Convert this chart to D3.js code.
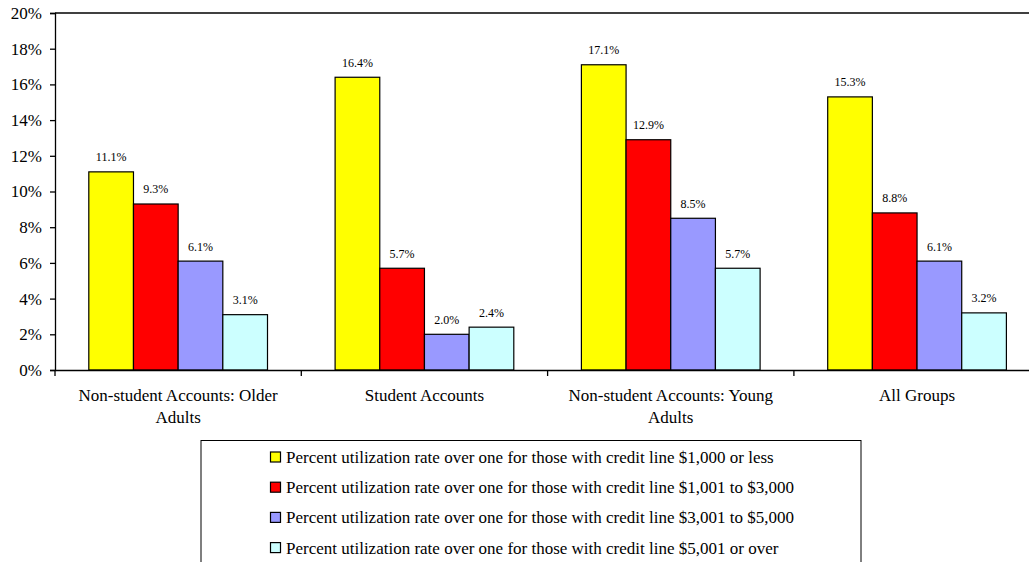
<!DOCTYPE html>
<html>
<head>
<meta charset="utf-8">
<script src="https://cdn.jsdelivr.net/npm/d3@7"></script>
<style>
  html, body { margin: 0; padding: 0; background: #fff; overflow: hidden; }
  svg { display: block; }
  text { font-family: "Liberation Serif", "Times New Roman", serif; fill: #000; }
</style>
</head>
<body>
<svg id="chart" width="1029" height="562"></svg>
<script>
const categories = [
  "Non-student Accounts: Older Adults",
  "Student Accounts",
  "Non-student Accounts: Young Adults",
  "All Groups"
];
const seriesNames = [
  "Percent utilization rate over one for those with credit line $1,000 or less",
  "Percent utilization rate over one for those with credit line $1,001 to $3,000",
  "Percent utilization rate over one for those with credit line $3,001 to $5,000",
  "Percent utilization rate over one for those with credit line $5,001 or over"
];
const line1000OrLess = [11.1, 16.4, 17.1, 15.3];
const line1001to3000 = [9.3, 5.7, 12.9, 8.8];
const line3001to5000 = [6.1, 2.0, 8.5, 6.1];
const line5001OrOver = [3.1, 2.4, 5.7, 3.2];
const seriesValues = [line1000OrLess, line1001to3000, line3001to5000, line5001OrOver];
const seriesColors = ["#FFFF00", "#FF0000", "#9999FF", "#CCFFFF"];
const yTicks = [0, 2, 4, 6, 8, 10, 12, 14, 16, 18, 20];

(function () {
const FONT = "'Liberation Serif', 'Times New Roman', serif";
const svg = d3.select("#chart");
const pL = 55, pR = 1040.2, pT = 13, pB = 370;

const x0 = d3.scaleBand().domain(categories).range([pL, pR]).padding(0);
const gw = x0.bandwidth();
const x1 = d3.scaleBand().domain(d3.range(4)).range([33.8, gw - 33.8]).padding(0);
const y = d3.scaleLinear().domain([0, 20]).range([pB, pT]);

// top border
svg.append("line").attr("x1", pL).attr("x2", 1029).attr("y1", y(20)).attr("y2", y(20))
  .attr("stroke", "#000").attr("stroke-width", 1.3);

// y axis
const yAxis = d3.axisLeft(y).tickValues(yTicks).tickFormat(d => d + "%").tickSize(5).tickPadding(8);
const gy = svg.append("g").attr("transform", `translate(${pL},0)`).call(yAxis);
gy.select(".domain").attr("stroke", "#000").attr("stroke-width", 1.3);
gy.selectAll(".tick line").attr("stroke", "#000").attr("stroke-width", 1.3);
gy.selectAll(".tick text").style("font-family", FONT).style("font-size", "17px").attr("fill", "#000");

// bars
const groups = svg.append("g").selectAll("g").data(categories).join("g")
  .attr("transform", d => `translate(${x0(d)},0)`);
groups.each(function(cat, ci) {
  const g = d3.select(this);
  seriesValues.forEach((vals, si) => {
    const v = vals[ci];
    g.append("rect")
      .attr("x", x1(si)).attr("width", x1.bandwidth())
      .attr("y", y(v)).attr("height", y(0) - y(v))
      .attr("fill", seriesColors[si]).attr("stroke", "#000").attr("stroke-width", 1.2);
    g.append("text")
      .attr("x", x1(si) + x1.bandwidth() / 2).attr("y", y(v) - 10.5)
      .attr("text-anchor", "middle").style("font-family", FONT).style("font-size", "12px")
      .text(v.toFixed(1) + "%");
  });
});

// x axis
const xAxis = d3.axisBottom(x0).tickSize(0).tickFormat("");
const gx = svg.append("g").attr("transform", `translate(0,${pB})`).call(xAxis);
gx.select(".domain").attr("stroke", "#000").attr("stroke-width", 1.3);
const bounds = categories.map(c => x0(c));
svg.append("g").selectAll("line").data(bounds).join("line")
  .attr("x1", d => d).attr("x2", d => d).attr("y1", pB).attr("y2", pB + 6)
  .attr("stroke", "#000").attr("stroke-width", 1.3);

// category labels with wrapping
function wrapLines(text, maxW, fontSize) {
  const tmp = svg.append("text").style("font-family", FONT).style("font-size", fontSize + "px");
  const words = text.split(" ");
  const lines = [];
  let cur = "";
  words.forEach(w => {
    const t = cur ? cur + " " + w : w;
    tmp.text(t);
    if (tmp.node().getComputedTextLength() > maxW && cur) { lines.push(cur); cur = w; }
    else cur = t;
  });
  lines.push(cur);
  tmp.remove();
  return lines;
}
categories.forEach(c => {
  const lines = wrapLines(c, 225, 17);
  const t = svg.append("text").attr("text-anchor", "middle")
    .style("font-family", FONT).style("font-size", "17px");
  lines.forEach((ln, i) => {
    t.append("tspan").attr("x", x0(c) + gw / 2).attr("y", pB + 31 + i * 21.5).text(ln);
  });
});

// legend
svg.append("rect").attr("x", 201).attr("y", 440.5).attr("width", 660).attr("height", 200)
  .attr("fill", "#fff").attr("stroke", "#000").attr("stroke-width", 1);
const leg = svg.append("g").selectAll("g").data(seriesNames).join("g")
  .attr("transform", (d, i) => `translate(270,${457 + i * 30.2})`);
leg.append("rect").attr("x", 0.5).attr("y", -5).attr("width", 10).attr("height", 10)
  .attr("fill", (d, i) => seriesColors[i]).attr("stroke", "#000").attr("stroke-width", 1.2);
leg.append("text").attr("x", 16).attr("y", 6).style("font-family", FONT).style("font-size", "17px").text(d => d);
})();
</script>
</body>
</html>
